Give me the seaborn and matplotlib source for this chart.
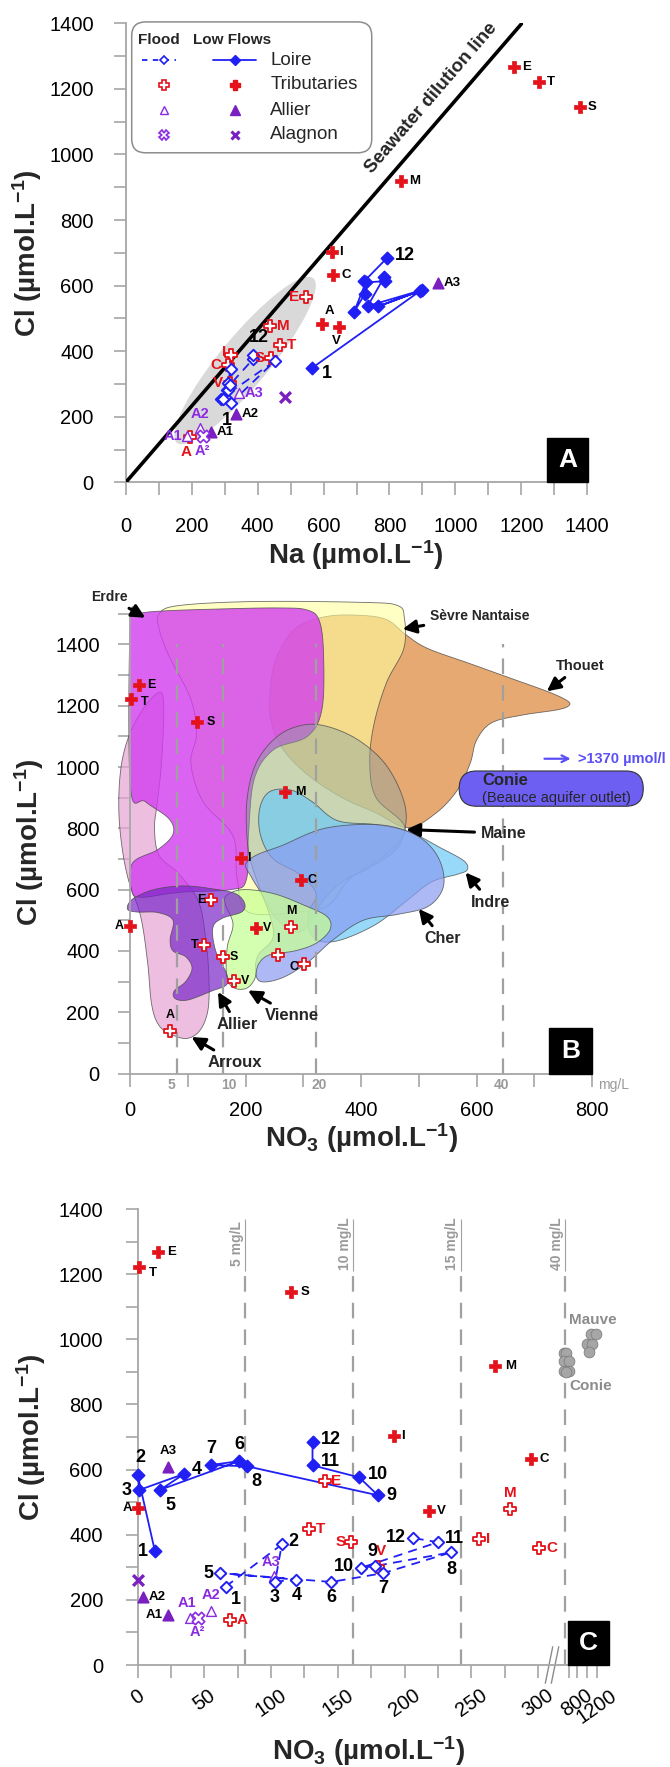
import numpy as np
import matplotlib
matplotlib.use("Agg")
import matplotlib.pyplot as plt
import matplotlib.transforms as mtransforms
from matplotlib.patches import Polygon, Ellipse, FancyBboxPatch, Rectangle
from matplotlib.lines import Line2D
from matplotlib.ticker import MultipleLocator, FixedLocator
import seaborn as sns

# ---------------- data ----------------
# Loire, low-flow survey (one sample per month, 1..12)
loire_low_na = [565, 893, 766, 900, 734, 784, 787, 728, 693, 726, 723, 792]
loire_low_no3 = [13, 0, 1, 35, 17, 76, 55, 82, 180, 166, 131, 131]
loire_low_cl = [349, 584, 537, 587, 538, 626, 614, 610, 521, 576, 613, 684]

# Loire, flood survey
loire_flood_na = [318, 452, 289, 301, 308, 296, 311, 318, 311, 316, 387, 387]
loire_flood_no3 = [66, 108, 103, 119, 62, 145, 184, 235, 178, 167, 225, 206]
loire_flood_cl = [241, 370, 256, 262, 282, 255, 282, 346, 304, 298, 377, 390]

# Tributaries (E Erdre, T Thouet, S Sevre, M Maine, I Indre, C Cher, A Arroux, V Vienne)
trib_codes = ["E", "T", "S", "M", "I", "C", "A", "V"]
trib_low_na = [1178, 1252, 1377, 835, 625, 630, 596, 648]
trib_low_no3 = [15, 1, 115, 268, 192, 295, 0, 218]
trib_low_cl = [1268, 1222, 1146, 918, 703, 632, 482, 474]
trib_flood_na = [547, 468, 440, 438, 318, 311, 195, 316]
trib_flood_no3 = [140, 128, 160, 279, 256, 301, 69, 180]
trib_flood_cl = [565, 419, 379, 478, 388, 358, 139, 302]

# Allier stations
allier_codes = ["A1", "A2", "A3"]
allier_low_na = [258, 335, 947]
allier_low_no3 = [23, 4, 23]
allier_low_cl = [154, 210, 609]
allier_flood_na = [187, 225, 345]
allier_flood_no3 = [39, 55, 102]
allier_flood_cl = [143, 167, 274]

# Alagnon
alagnon_low_na = [482]
alagnon_low_no3 = [0]
alagnon_low_cl = [262]
alagnon_flood_na = [234]
alagnon_flood_no3 = [45]
alagnon_flood_cl = [143]

# Beauce aquifer outlets
conie_no3 = [610, 660, 630, 700, 615, 700, 660]
conie_cl = [958, 958, 932, 932, 904, 904, 901]
mauve_no3 = [1000, 1110, 1080, 1180, 1050]
mauve_cl = [987, 987, 1016, 1016, 961]

# seawater Cl/Na dilution line
seawater_na = [0, 1200]
seawater_cl = [0, 1398]

# nitrate reference levels (mg/L)
nitrate_mgl_b = [5, 10, 20, 40]
nitrate_mgl_c = [5, 10, 15, 40]
NO3_UMOL_PER_MGL = 1000.0 / 62.0

# Regional envelopes of tributary samples (NO3, Cl in umol/L)
arroux_no3 = [52, 58, 54, 47, 42, 50, 85, 118, 130, 136, 135, 122, 100, 74, 50, 37, 30, 18, -4, -16, -20, -15, 0, 26]
arroux_cl = [1244, 1187, 1012, 887, 800, 712, 650, 562, 450, 325, 212, 144, 115, 125, 156, 225, 362, 512, 637, 762, 887, 1012, 1112, 1200]
thouet_no3 = [242, 252, 285, 337, 396, 444, 478, 515, 589, 663, 722, 755, 761, 741, 678, 626, 600, 589, 567, 530, 481, 426, 367, 307, 263, 244]
thouet_cl = [1237, 1350, 1450, 1490, 1495, 1481, 1431, 1387, 1337, 1287, 1247, 1219, 1202, 1187, 1169, 1144, 1087, 1012, 925, 850, 802, 850, 900, 975, 1062, 1150]
sevre_no3 = [50, 85, 218, 404, 463, 475, 474, 444, 422, 415, 426, 476, 441, 381, 344, 293, 204, 185, 178, 126, 105, 115, 104, 67, 50]
sevre_cl = [1500, 1527, 1540, 1537, 1527, 1487, 1387, 1275, 1137, 1012, 900, 802, 712, 637, 550, 527, 527, 637, 775, 887, 1012, 1112, 1225, 1362, 1450]
erdre_no3 = [0, 15, 56, 144, 255, 307, 328, 335, 332, 307, 248, 215, 205, 201, 174, 85, 18, 2, 4, 48, 74, 67, 26, 0]
erdre_cl = [1475, 1500, 1509, 1515, 1519, 1512, 1475, 1362, 1187, 1100, 1056, 962, 787, 631, 600, 591, 575, 600, 687, 731, 781, 831, 887, 937]
maine_no3 = [202, 218, 255, 300, 344, 396, 441, 470, 478, 463, 418, 367, 333, 315, 293, 267, 241, 218, 204]
maine_cl = [887, 1012, 1100, 1137, 1131, 1087, 1012, 912, 825, 737, 675, 625, 562, 500, 462, 481, 537, 637, 737]
indre_no3 = [224, 241, 278, 315, 359, 426, 485, 537, 578, 584, 567, 522, 478, 426, 367, 330, 311, 309, 322, 293, 248, 226]
indre_cl = [862, 919, 925, 887, 825, 812, 787, 737, 694, 665, 650, 625, 562, 487, 437, 431, 462, 525, 587, 650, 700, 775]
cher_no3 = [200, 218, 263, 337, 426, 485, 522, 541, 541, 515, 463, 404, 352, 307, 263, 226, 217, 222, 248, 233, 211]
cher_cl = [681, 712, 744, 800, 812, 787, 737, 669, 600, 544, 519, 500, 437, 362, 312, 300, 337, 387, 450, 562, 637]
vienne_no3 = [167, 196, 248, 300, 341, 346, 322, 285, 241, 222, 215, 200, 178, 167, 168, 178, 165]
vienne_cl = [581, 600, 587, 550, 512, 469, 425, 400, 387, 356, 306, 277, 281, 319, 412, 487, 550]
allierenv_no3 = [-5, 4, 41, 93, 144, 182, 198, 193, 159, 143, 148, 167, 167, 141, 100, 78, 76, 96, 107, 96, 74, 69, 74, 48, 11]
allierenv_cl = [537, 569, 600, 612, 602, 587, 556, 527, 506, 475, 400, 325, 290, 269, 240, 244, 269, 300, 344, 381, 400, 437, 500, 525, 527]

# ---------------- style ----------------
sns.set_theme(style="ticks")
plt.rcParams["font.family"] = ["Liberation Sans", "DejaVu Sans"]
plt.rcParams["mathtext.fontset"] = "custom"
plt.rcParams["mathtext.rm"] = "Liberation Sans"
plt.rcParams["mathtext.bf"] = "Liberation Sans:bold"
plt.rcParams["mathtext.it"] = "Liberation Sans:italic"

RED = "#e3121b"
BLUE = "#2020f5"
PURPLE = "#7a1fc0"
PURPLE_TXT = "#8a2be2"
GREY = "#a6a6a6"
DASH_GREY = "#a0a0a0"

CL_LABEL = r"Cl (µmol.L$^{\mathbf{-1}}$)"
NA_LABEL = r"Na (µmol.L$^{\mathbf{-1}}$)"
NO3_LABEL = r"NO$_{\mathbf{3}}$ (µmol.L$^{\mathbf{-1}}$)"

fig = plt.figure(figsize=(6.7, 17.67), dpi=100)
W, H = 670.0, 1767.0
axA = fig.add_axes([125.7 / W, 1 - 482.5 / H, 461.6 / W, 459.2 / H])
axB = fig.add_axes([130.3 / W, 1 - 1073.5 / H, 461.6 / W, 481.2 / H])
axC = fig.add_axes([137.6 / W, 1 - 1665.0 / H, 463.3 / W, 456.0 / H])


def style_axes(ax, xpad, ypad):
    for s in ["top", "right"]:
        ax.spines[s].set_visible(False)
    for s in ["left", "bottom"]:
        ax.spines[s].set_color(GREY)
        ax.spines[s].set_linewidth(1.3)
    ax.tick_params(axis="both", which="both", direction="out", length=9, width=1.2,
                   color=GREY, labelsize=14.5, labelcolor="black")
    ax.tick_params(axis="x", which="both", pad=xpad)
    ax.tick_params(axis="y", which="both", pad=ypad)
    ax.set_facecolor("none")


def points(ax, x, y, marker, color, filled=True, s=55, lw=1.3, z=6):
    face = color if filled else "white"
    sns.scatterplot(x=x, y=y, marker=marker, s=s, color=face, edgecolor=color,
                    linewidth=lw, ax=ax, zorder=z, clip_on=False, legend=False)


def crosses(ax, x, y, s=60, lw=2.4, z=6):
    sns.scatterplot(x=x, y=y, marker="x", s=s, color=PURPLE, linewidth=lw,
                    ax=ax, zorder=z, clip_on=False, legend=False)


def path(ax, x, y, dashed=False, lw=1.3):
    sns.lineplot(x=x, y=y, sort=False, estimator=None, color=BLUE, lw=lw,
                 linestyle=(0, (5, 3.5)) if dashed else "-", ax=ax, zorder=4, legend=False)


def lab(ax, text, x, y, dx, dy, ha="left", va="center", color="black", size=9.5):
    ax.annotate(text, (x, y), xytext=(dx, dy), textcoords="offset points", ha=ha, va=va,
                color=color, fontsize=size, fontweight="bold", zorder=9, annotation_clip=False)


def panel_tag(ax, letter, x0, x1, y1):
    ax.add_patch(Rectangle((x0, 0), x1 - x0, y1, transform=ax.transAxes, facecolor="black",
                           edgecolor="black", clip_on=False, zorder=10))
    ax.text((x0 + x1) / 2, y1 / 2, letter, transform=ax.transAxes, ha="center", va="center",
            color="white", fontsize=19, fontweight="bold", zorder=11)


def smooth_closed(x, y, n=14):
    pts = np.column_stack([x, y]).astype(float)
    P = np.vstack([pts[-1], pts, pts[0], pts[1]])
    t = np.linspace(0, 1, n, endpoint=False)[:, None]
    out = []
    for i in range(1, len(pts) + 1):
        p0, p1, p2, p3 = P[i - 1], P[i], P[i + 1], P[i + 2]
        out.append(0.5 * (2 * p1 + (-p0 + p2) * t + (2 * p0 - 5 * p1 + 4 * p2 - p3) * t ** 2
                          + (-p0 + 3 * p1 - 3 * p2 + p3) * t ** 3))
    return np.vstack(out)


def envelope(ax, x, y, fc, alpha, z):
    ax.add_patch(Polygon(smooth_closed(x, y), closed=True, facecolor=fc, alpha=alpha,
                         edgecolor="none", zorder=z, clip_on=False))
    ax.add_patch(Polygon(smooth_closed(x, y), closed=True, facecolor="none",
                         edgecolor="#4a4a4a", linewidth=0.6, alpha=0.8, zorder=z, clip_on=False))


# ======================= Panel A: Cl vs Na =======================
ax = axA
style_axes(ax, xpad=16, ypad=14)
ax.set_xlim(0, 1400)
ax.set_ylim(0, 1400)
for a in (ax.xaxis, ax.yaxis):
    a.set_major_locator(MultipleLocator(200))
    a.set_minor_locator(MultipleLocator(100))

ax.add_patch(Ellipse((362, 372), width=650, height=150, angle=50.5, facecolor="#d9d9d9",
                     edgecolor="none", zorder=1))
sns.lineplot(x=seawater_na, y=seawater_cl, color="black", lw=2.6, ax=ax, zorder=3, legend=False)
ax.text(928, 1171, "Seawater dilution line", rotation=49.3, ha="center", va="center",
        fontsize=13.5, fontweight="bold", rotation_mode="anchor")

path(ax, loire_flood_na, loire_flood_cl, dashed=True)
path(ax, loire_low_na, loire_low_cl)
points(ax, loire_low_na, loire_low_cl, "D", BLUE, s=38, z=7)
points(ax, loire_flood_na, loire_flood_cl, "D", BLUE, filled=False, s=34, lw=1.4, z=7)
points(ax, trib_low_na, trib_low_cl, "P", RED, s=70, lw=0.5)
points(ax, trib_flood_na, trib_flood_cl, "P", RED, filled=False, s=85, lw=1.3)
points(ax, allier_low_na, allier_low_cl, "^", PURPLE, s=55)
points(ax, allier_flood_na, allier_flood_cl, "^", PURPLE_TXT, filled=False, s=50, lw=1.0)
crosses(ax, alagnon_low_na, alagnon_low_cl)
points(ax, alagnon_flood_na, alagnon_flood_cl, "X", PURPLE_TXT, filled=False, s=80, lw=1.2)

offA_low = {"E": (6, 0, "left", "center"), "T": (6, 0, "left", "center"),
            "S": (6, 0, "left", "center"), "M": (6, 0, "left", "center"),
            "I": (5, 0, "left", "center"), "C": (6, 0, "left", "center"),
            "A": (5, 5, "center", "bottom"), "V": (-2, -6, "center", "top")}
offA_flood = {"E": (-5, 0, "right", "center"), "T": (5, 0, "left", "center"),
              "S": (-4, 0, "right", "center"), "M": (5, 0, "left", "center"),
              "I": (-3, 2, "right", "center"), "C": (-5, 0, "right", "center"),
              "A": (-3, -6, "center", "top"), "V": (-5, 0, "right", "center")}
for c, x, y in zip(trib_codes, trib_low_na, trib_low_cl):
    dx, dy, ha, va = offA_low[c]
    lab(ax, c, x, y, dx, dy, ha, va, size=9.5)
for c, x, y in zip(trib_codes, trib_flood_na, trib_flood_cl):
    dx, dy, ha, va = offA_flood[c]
    lab(ax, c, x, y, dx, dy, ha, va, color=RED, size=11)
for c, x, y in zip(allier_codes, allier_low_na, allier_low_cl):
    lab(ax, c, x, y, 4, 0, "left", "center", size=9.5)
offA_allier_flood = {"A1": (-4, 0, "right", "center"), "A2": (0, 5, "center", "bottom"),
                     "A3": (4, 0, "left", "center")}
for c, x, y in zip(allier_codes, allier_flood_na, allier_flood_cl):
    dx, dy, ha, va = offA_allier_flood[c]
    lab(ax, c, x, y, dx, dy, ha, va, color=PURPLE_TXT, size=10.5)
lab(ax, "A²", alagnon_flood_na[0], alagnon_flood_cl[0], 0, -6, "center", "top",
    color=PURPLE_TXT, size=10.5)
lab(ax, "1", loire_low_na[0], loire_low_cl[0], 7, -4, "left", "center", size=13)
lab(ax, "12", loire_low_na[11], loire_low_cl[11], 6, 2, "left", "center", size=13)
lab(ax, "12", loire_flood_na[11], loire_flood_cl[11], 4, 6, "center", "bottom", size=13)
lab(ax, "1", loire_flood_na[0], loire_flood_cl[0], -3, -6, "center", "top", size=13)

ax.set_xlabel(NA_LABEL, fontsize=20, fontweight="bold")
ax.set_ylabel(CL_LABEL, fontsize=20, fontweight="bold")
ax.xaxis.set_label_coords(0.498, -0.121)
ax.yaxis.set_label_coords(-0.177, 0.5)
panel_tag(ax, "A", 0.913, 1.002, 0.097)

# legend box
T = ax.transAxes
ax.add_patch(FancyBboxPatch((0.013, 0.718), 0.52, 0.285, boxstyle="round,pad=0,rounding_size=0.03",
                            transform=T, facecolor="white", edgecolor="#8c8c8c", lw=1.1,
                            clip_on=False, zorder=12))
ax.text(0.027, 0.964, "Flood", transform=T, fontsize=11, fontweight="bold", va="center", zorder=13)
ax.text(0.145, 0.964, "Low Flows", transform=T, fontsize=11, fontweight="bold", va="center", zorder=13)
rows = [0.920, 0.866, 0.811, 0.757]
names = ["Loire", "Tributaries", "Allier", "Alagnon"]
for yv, nm in zip(rows, names):
    ax.text(0.313, yv, nm, transform=T, fontsize=13.5, va="center", zorder=13)
leg = [
    Line2D([0.035, 0.110], [rows[0]] * 2, color=BLUE, lw=1.3, ls=(0, (3, 3))),
    Line2D([0.083], [rows[0]], marker="D", ms=4.5, mfc="white", mec=BLUE, mew=1.2, ls="none"),
    Line2D([0.189, 0.283], [rows[0]] * 2, color=BLUE, lw=1.3),
    Line2D([0.237], [rows[0]], marker="D", ms=5, mfc=BLUE, mec=BLUE, ls="none"),
    Line2D([0.083], [rows[1]], marker="P", ms=7, mfc="white", mec=RED, mew=1.2, ls="none"),
    Line2D([0.237], [rows[1]], marker="P", ms=7, mfc=RED, mec=RED, ls="none"),
    Line2D([0.083], [rows[2]], marker="^", ms=5.5, mfc="white", mec=PURPLE_TXT, mew=1.0, ls="none"),
    Line2D([0.237], [rows[2]], marker="^", ms=6.5, mfc=PURPLE, mec=PURPLE, ls="none"),
    Line2D([0.083], [rows[3]], marker="X", ms=7, mfc="white", mec=PURPLE_TXT, mew=1.2, ls="none"),
    Line2D([0.237], [rows[3]], marker="x", ms=6, mec=PURPLE, mew=2.2, ls="none"),
]
for ln in leg:
    ln.set_transform(T)
    ln.set_clip_on(False)
    ln.set_zorder(13)
    ax.add_line(ln)

# ======================= Panel B: Cl vs NO3, envelopes =======================
ax = axB
style_axes(ax, xpad=10.5, ypad=13)
ax.set_xlim(0, 800)
ax.set_ylim(0, 1570)
ax.spines["left"].set_bounds(0, 1500)
ax.xaxis.set_major_locator(MultipleLocator(200))
ax.xaxis.set_minor_locator(MultipleLocator(100))
ax.yaxis.set_major_locator(FixedLocator(list(range(0, 1401, 200))))
ax.yaxis.set_minor_locator(FixedLocator(list(range(100, 1501, 200))))

envelope(ax, arroux_no3, arroux_cl, "#e6a3d3", 0.7, 1.0)
envelope(ax, thouet_no3, thouet_cl, "#df8c43", 0.75, 1.1)
envelope(ax, sevre_no3, sevre_cl, "#ffff9e", 0.6, 1.2)
envelope(ax, erdre_no3, erdre_cl, "#d23cef", 0.8, 1.3)
envelope(ax, maine_no3, maine_cl, "#8aa5a0", 0.45, 1.4)
envelope(ax, indre_no3, indre_cl, "#6ccaf7", 0.7, 1.5)
envelope(ax, cher_no3, cher_cl, "#8a9cf2", 0.7, 1.6)
envelope(ax, vienne_no3, vienne_cl, "#c8ff96", 0.75, 1.7)
envelope(ax, allierenv_no3, allierenv_cl, "#7a26c9", 0.7, 1.8)

no3_lines_b = [m * NO3_UMOL_PER_MGL for m in nitrate_mgl_b]
ax.vlines(no3_lines_b, 0, 1400, colors=DASH_GREY, linestyles=(0, (7, 5)), lw=1.6, zorder=2.5)
btr = mtransforms.blended_transform_factory(ax.transData, ax.transAxes)
for m, xv, sh in zip(nitrate_mgl_b, no3_lines_b, [-9, 9, 4, -1]):
    ax.text(xv + sh, -0.024, str(m), transform=btr, ha="center", va="center", color="#9a9a9a",
            fontsize=10, fontweight="bold")
ax.text(810, -0.024, "mg/L", transform=btr, ha="left", va="center", color="#9a9a9a", fontsize=10)

points(ax, trib_low_no3, trib_low_cl, "P", RED, s=70, lw=0.5)
points(ax, trib_flood_no3, trib_flood_cl, "P", RED, filled=False, s=85, lw=1.3)
offB_low = {"E": (6, 0, "left", "center"), "T": (7, -2, "left", "center"),
            "S": (7, 0, "left", "center"), "M": (7, 0, "left", "center"),
            "I": (4, 0, "left", "center"), "C": (5, 0, "left", "center"),
            "A": (-5, 0, "right", "center"), "V": (5, 0, "left", "center")}
offB_flood = {"E": (-4, 0, "right", "center"), "T": (-4, 0, "right", "center"),
              "S": (5, 0, "left", "center"), "V": (5, 0, "left", "center"),
              "M": (0, 7, "center", "bottom"), "I": (0, 7, "center", "bottom"),
              "C": (-4, -2, "right", "center"), "A": (0, 7, "center", "bottom")}
for c, x, y in zip(trib_codes, trib_low_no3, trib_low_cl):
    dx, dy, ha, va = offB_low[c]
    lab(ax, c, x, y, dx, dy, ha, va, size=9)
for c, x, y in zip(trib_codes, trib_flood_no3, trib_flood_cl):
    dx, dy, ha, va = offB_flood[c]
    lab(ax, c, x, y, dx, dy, ha, va, size=9)

arrow = dict(arrowstyle="-|>", color="black", lw=2.2, mutation_scale=20, shrinkA=2, shrinkB=0)
names_b = [("Erdre", (26, 1487), (-37, 1556), "center", 10),
           ("Sèvre Nantaise", (472, 1450), (519, 1494), "left", 10),
           ("Thouet", (722, 1247), (780, 1331), "center", 10.5),
           ("Maine", (478, 796), (607, 784), "left", 11.5),
           ("Indre", (581, 656), (624, 559), "center", 11.5),
           ("Cher", (500, 537), (541, 440), "center", 11.5),
           ("Vienne", (204, 271), (280, 190), "center", 12),
           ("Allier", (152, 266), (185, 159), "center", 12),
           ("Arroux", (106, 119), (181, 37), "center", 12)]
for nm, head, txt, ha, fs in names_b:
    ax.annotate(nm, xy=head, xytext=txt, ha=ha, va="center", fontsize=fs, fontweight="bold",
                arrowprops=arrow, zorder=9, annotation_clip=False)

# Conie outlet, off the scale
ax.add_patch(FancyBboxPatch((570, 872), 319, 115, boxstyle="round,pad=0,rounding_size=30",
                            mutation_aspect=1.9, facecolor="#6c5ff2", edgecolor="#333333",
                            lw=0.8, clip_on=False, zorder=3))
ax.text(610, 955, "Conie", fontsize=12, fontweight="bold", va="center", zorder=4)
ax.text(610, 898, "(Beauce aquifer outlet)", fontsize=10.5, va="center", zorder=4)
ax.annotate("", xy=(768, 1027), xytext=(713, 1027),
            arrowprops=dict(arrowstyle="->", color="#5b4ef5", lw=1.6), annotation_clip=False)
ax.text(776, 1027, ">1370 µmol/l", color="#5b4ef5", fontsize=10.5, fontweight="bold",
        va="center", clip_on=False)

ax.set_xlabel(NO3_LABEL, fontsize=20, fontweight="bold")
ax.set_ylabel(CL_LABEL, fontsize=20, fontweight="bold")
ax.xaxis.set_label_coords(0.502, -0.099)
ax.yaxis.set_label_coords(-0.183, 0.48)
panel_tag(ax, "B", 0.9075, 1.0, 0.094)

# ======================= Panel C: Cl vs NO3, broken axis =======================
ax = axC
c_raw = [-100, 0, 310, 640, 800, 1300]
c_pos = [-100, 0, 310, 320, 329, 347.75]
ax.set_xscale("function", functions=(lambda v: np.interp(v, c_raw, c_pos),
                                      lambda v: np.interp(v, c_pos, c_raw)))
style_axes(ax, xpad=6, ypad=16)
ax.set_xlim(0, 1280)
ax.set_ylim(0, 1400)
ax.xaxis.set_major_locator(FixedLocator([0, 50, 100, 150, 200, 250, 300, 800, 1200]))
ax.xaxis.set_minor_locator(FixedLocator([25, 75, 125, 175, 225, 275, 700, 1000]))
ax.xaxis.set_major_formatter(matplotlib.ticker.FuncFormatter(lambda v, p: f"{int(round(v))}"))
ax.yaxis.set_major_locator(MultipleLocator(200))
ax.yaxis.set_minor_locator(MultipleLocator(100))
for tl in ax.get_xticklabels():
    tl.set_rotation(35)
    tl.set_ha("center")

no3_lines_c = [m * NO3_UMOL_PER_MGL for m in nitrate_mgl_c]
ax.vlines(no3_lines_c, 0, 1210, colors=DASH_GREY, linestyles=(0, (7, 5)), lw=1.6, zorder=2)
ax.vlines(no3_lines_c, 1210, 1370, colors=DASH_GREY, lw=0.8, zorder=2)
for m, xv in zip(nitrate_mgl_c, no3_lines_c):
    ax.annotate(f"{m} mg/L", (xv, 1295), xytext=(-6, 0), textcoords="offset points",
                rotation=90, ha="center", va="center", color="#9a9a9a", fontsize=10,
                fontweight="bold")

# axis break marks
for fx in (0.888, 0.901):
    ax.add_line(Line2D([fx - 0.008, fx + 0.008], [-0.04, 0.04], transform=ax.transAxes,
                       color="#8c8c8c", lw=1.0, clip_on=False))

sns.scatterplot(x=conie_no3, y=conie_cl, s=60, color="#a6a6a6", edgecolor="#7f7f7f",
                linewidth=0.6, ax=ax, zorder=5, legend=False, clip_on=False)
sns.scatterplot(x=mauve_no3, y=mauve_cl, s=60, color="#a6a6a6", edgecolor="#7f7f7f",
                linewidth=0.6, ax=ax, zorder=5, legend=False, clip_on=False)
ax.text(1109, 1059, "Mauve", color="#8c8c8c", fontsize=11, fontweight="bold", ha="center",
        va="center")
ax.text(1067, 856, "Conie", color="#8c8c8c", fontsize=11, fontweight="bold", ha="center",
        va="center")

path(ax, loire_flood_no3, loire_flood_cl, dashed=True)
path(ax, loire_low_no3, loire_low_cl)
points(ax, loire_low_no3, loire_low_cl, "D", BLUE, s=38, z=7)
points(ax, loire_flood_no3, loire_flood_cl, "D", BLUE, filled=False, s=34, lw=1.4, z=7)
points(ax, trib_low_no3, trib_low_cl, "P", RED, s=70, lw=0.5)
points(ax, trib_flood_no3, trib_flood_cl, "P", RED, filled=False, s=85, lw=1.3)
points(ax, allier_low_no3, allier_low_cl, "^", PURPLE, s=55)
points(ax, allier_flood_no3, allier_flood_cl, "^", PURPLE_TXT, filled=False, s=50, lw=1.0)
crosses(ax, alagnon_low_no3, alagnon_low_cl)
points(ax, alagnon_flood_no3, alagnon_flood_cl, "X", PURPLE_TXT, filled=False, s=80, lw=1.2)

offC_low_num = [(-5, 0, "right", "center"), (2, 6, "center", "bottom"), (-5, 0, "right", "center"),
                (5, 3, "left", "center"), (4, -5, "left", "top"), (0, 6, "center", "bottom"),
                (0, 6, "center", "bottom"), (3, -5, "left", "top"), (6, 0, "left", "center"),
                (6, 2, "left", "center"), (6, 3, "left", "center"), (6, 2, "left", "center")]
offC_flood_num = [(4, -3, "left", "top"), (5, 2, "left", "center"), (0, -5, "center", "top"),
                  (0, -5, "center", "top"), (-5, 0, "right", "center"), (0, -5, "center", "top"),
                  (0, -5, "center", "top"), (0, -6, "center", "top"), (-2, 4, "center", "bottom"),
                  (-5, 1, "right", "center"), (5, 3, "left", "center"), (-5, 0, "right", "center")]
for i in range(12):
    dx, dy, ha, va = offC_low_num[i]
    lab(ax, str(i + 1), loire_low_no3[i], loire_low_cl[i], dx, dy, ha, va, size=13)
    dx, dy, ha, va = offC_flood_num[i]
    lab(ax, str(i + 1), loire_flood_no3[i], loire_flood_cl[i], dx, dy, ha, va, size=13)

offC_low = {"E": (7, 0, "left", "center"), "T": (7, -4, "left", "center"),
            "S": (7, 0, "left", "center"), "M": (7, 0, "left", "center"),
            "I": (5, 0, "left", "center"), "C": (6, 0, "left", "center"),
            "A": (-4, 0, "right", "center"), "V": (6, 0, "left", "center")}
offC_flood = {"E": (5, 0, "left", "center"), "T": (5, 0, "left", "center"),
              "S": (-4, 0, "right", "center"), "M": (0, 7, "center", "bottom"),
              "I": (5, 0, "left", "center"), "C": (5, 0, "left", "center"),
              "A": (5, 0, "left", "center"), "V": (2, 6, "center", "bottom")}
for c, x, y in zip(trib_codes, trib_low_no3, trib_low_cl):
    dx, dy, ha, va = offC_low[c]
    lab(ax, c, x, y, dx, dy, ha, va, size=9.5)
for c, x, y in zip(trib_codes, trib_flood_no3, trib_flood_cl):
    dx, dy, ha, va = offC_flood[c]
    lab(ax, c, x, y, dx, dy, ha, va, color=RED, size=11)
offC_allier_low = {"A1": (-4, 0, "right", "center"), "A2": (4, 0, "left", "center"),
                   "A3": (0, 7, "center", "bottom")}
offC_allier_flood = {"A1": (-2, 6, "center", "bottom"), "A2": (0, 6, "center", "bottom"),
                     "A3": (-2, 5, "center", "bottom")}
for c, x, y in zip(allier_codes, allier_low_no3, allier_low_cl):
    dx, dy, ha, va = offC_allier_low[c]
    lab(ax, c, x, y, dx, dy, ha, va, size=9.5)
for c, x, y in zip(allier_codes, allier_flood_no3, allier_flood_cl):
    dx, dy, ha, va = offC_allier_flood[c]
    lab(ax, c, x, y, dx, dy, ha, va, color=PURPLE_TXT, size=10.5)
lab(ax, "A²", alagnon_flood_no3[0], alagnon_flood_cl[0], 0, -5, "center", "top",
    color=PURPLE_TXT, size=10.5)

ax.set_xlabel(NO3_LABEL, fontsize=20, fontweight="bold")
ax.set_ylabel(CL_LABEL, fontsize=20, fontweight="bold")
ax.xaxis.set_label_coords(0.498, -0.151)
ax.yaxis.set_label_coords(-0.193, 0.5)
panel_tag(ax, "C", 0.928, 1.017, 0.0965)

fig.savefig("out.png", dpi=100)
